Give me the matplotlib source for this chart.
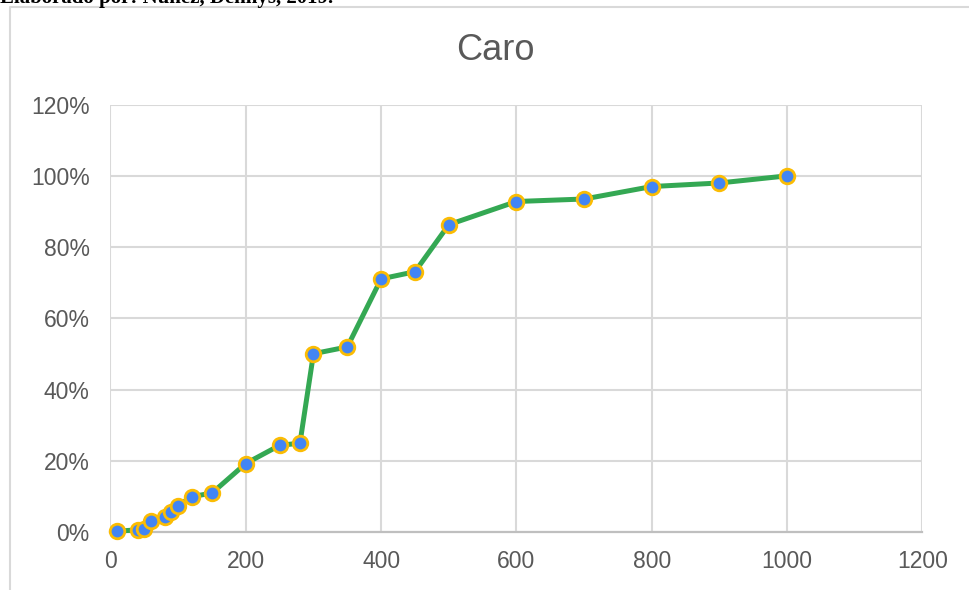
import matplotlib
matplotlib.use("Agg")
import matplotlib.pyplot as plt
from matplotlib.lines import Line2D
from matplotlib.ticker import PercentFormatter, MultipleLocator

# Cumulative share (%) against quantity for the "Caro" group
cantidad = [10, 40, 50, 60, 80, 90, 100, 120, 150, 200, 250, 280, 300,
            350, 400, 450, 500, 600, 700, 800, 900, 1000]
acumulado = [0.3, 0.7, 1.0, 3.3, 4.4, 5.6, 7.5, 10.0, 11.0, 19.3, 24.4,
             25.0, 50.1, 52.0, 71.1, 73.1, 86.3, 92.8, 93.5, 97.0, 98.0, 100.0]

titulo = "Caro"
fuente = "Elaborado por: Núñez, Dennys, 2019."

GRID = "#D9D9D9"
TEXT = "#595959"

plt.rcParams["font.family"] = ["Liberation Sans", "DejaVu Sans"]

fig = plt.figure(figsize=(9.69, 5.9), dpi=100)
ax = fig.add_axes([0.114, 0.0978, 0.838, 0.725])

ax.plot(cantidad, acumulado, color="#34A853", linewidth=3.6,
        marker="o", markersize=10.5, markerfacecolor="#4285F4",
        markeredgecolor="#FBBC04", markeredgewidth=2.0,
        solid_capstyle="round", clip_on=False, zorder=3)

ax.set_xlim(0, 1200)
ax.set_ylim(0, 120)
ax.xaxis.set_major_locator(MultipleLocator(200))
ax.yaxis.set_major_locator(MultipleLocator(20))
ax.yaxis.set_major_formatter(PercentFormatter(xmax=100, decimals=0))

ax.grid(True, color=GRID, linewidth=1.5)
ax.set_axisbelow(True)
for side in ("top", "right", "left"):
    ax.spines[side].set_visible(False)
ax.spines["bottom"].set_color("#BFBFBF")
ax.spines["bottom"].set_linewidth(1.6)
ax.spines["bottom"].set_zorder(2)

ax.tick_params(length=0, labelsize=16.5, labelcolor=TEXT)
ax.tick_params(axis="y", pad=15)
ax.tick_params(axis="x", pad=13)

fig.text(0.511, 0.914, titulo, ha="center", va="center",
         fontsize=26, color=TEXT)

# Chart frame (top and left edges)
fig.add_artist(Line2D([10 / 969, 10 / 969, 1.0], [0.0, 1 - 7 / 590, 1 - 7 / 590],
                      transform=fig.transFigure, color=GRID, linewidth=1.5))

# Source note, partly cut off by the top edge
fig.text(0.0, 1 - 3 / 590, fuente, ha="left", va="baseline",
         fontsize=15, fontweight="bold", family="Liberation Serif",
         color="black")

fig.savefig("out.png", dpi=100)
